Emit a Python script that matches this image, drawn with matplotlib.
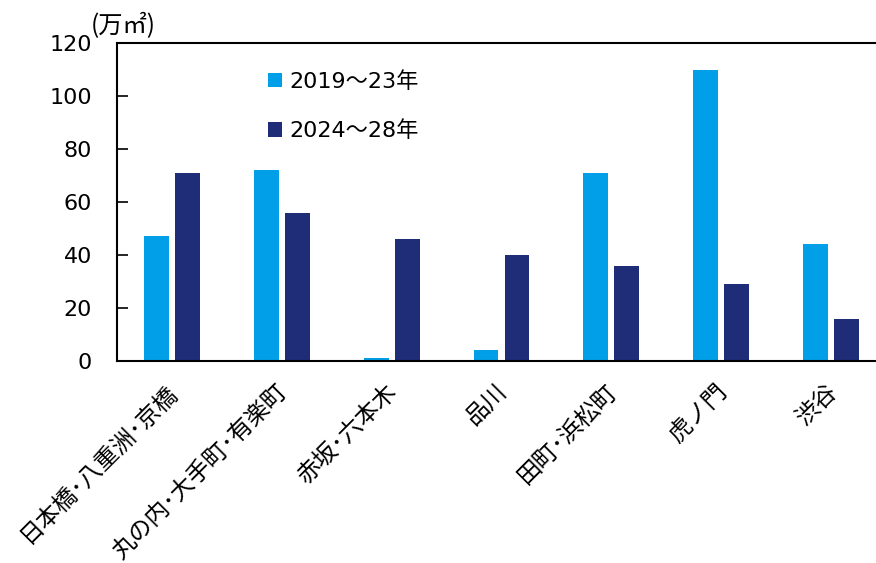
import numpy as np
import matplotlib
matplotlib.use('Agg')
import matplotlib.pyplot as plt
import matplotlib.transforms as mtransforms

plt.rcParams['font.family'] = ['DejaVu Sans', 'Noto Sans CJK JP']

areas = ['日本橋･八重洲･京橋', '丸の内･大手町･有楽町', '赤坂･六本木', '品川',
         '田町･浜松町', '虎ノ門', '渋谷']
v_2019 = [47, 72, 1, 4, 71, 110, 44]   # 2019～23年
v_2024 = [71, 56, 46, 40, 36, 29, 16]  # 2024～28年
series = ['2019～23年', '2024～28年']
colors = ['#009FE8', '#1F2C78']
yticks = [0, 20, 40, 60, 80, 100, 120]

fig = plt.figure(figsize=(8.76, 5.63), dpi=100)
ax = fig.add_axes([117/876, 1-361/563, 769/876, 318/563])

x = np.arange(len(areas))
w = 0.227
off = 0.141
ax.bar(x - off, v_2019, w, color=colors[0], label=series[0])
ax.bar(x + off, v_2024, w, color=colors[1], label=series[1])

ax.set_xlim(-0.5, len(areas) - 0.5)
ax.set_ylim(0, 120)
ax.set_yticks(yticks)
ax.tick_params(axis='y', labelsize=16, length=8, width=1.2, direction='in', pad=18)
ax.tick_params(axis='x', length=0, pad=14)
ax.set_xticks(x)
ax.set_xticklabels(areas, rotation=45, ha='right', va='top', rotation_mode='anchor',
                   fontsize=17, family=['Noto Sans CJK JP'])
shift = mtransforms.ScaledTranslation(-6/100, 0, fig.dpi_scale_trans)
for lab in ax.get_xticklabels():
    lab.set_transform(lab.get_transform() + shift)
for s in ['left', 'top', 'bottom']:
    ax.spines[s].set_linewidth(1.5)
ax.spines['right'].set_visible(False)

fig.text(91/876, 1-33/563, '(万㎡)', fontsize=17.5,
         family=['Noto Sans CJK JP'], ha='left', va='baseline')

leg = ax.legend(loc='upper left', bbox_to_anchor=(0.17, 0.975), frameon=False,
                handlelength=0.62, handleheight=0.62,
                handletextpad=0.35, labelspacing=1.3,
                prop={'family': ['DejaVu Sans', 'Noto Sans CJK JP'], 'size': 16})

fig.savefig('out.png', dpi=100)
